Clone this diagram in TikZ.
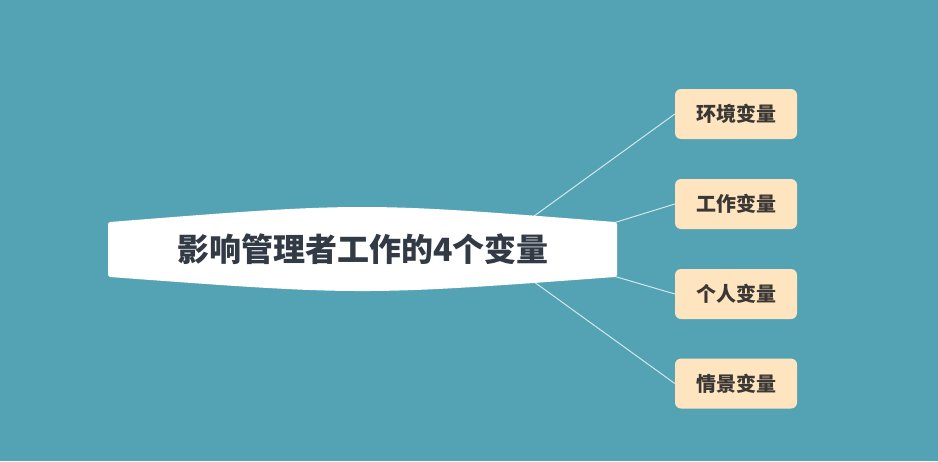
\documentclass[tikz,border=0pt]{standalone}
\usepackage{fontspec}
\newfontfamily\cjk{Noto Sans CJK SC}
\definecolor{bg}{HTML}{53A3B4}
\definecolor{boxfill}{HTML}{FEE5BF}
\definecolor{maintext}{HTML}{313A45}
\definecolor{boxtext}{HTML}{3A3734}
\definecolor{linkc}{HTML}{D2E8EC}
\tikzset{
  leaf/.style={fill=boxfill, rounded corners=6pt, minimum width=122pt, minimum height=50pt, inner sep=0pt, text=boxtext, font=\cjk\bfseries\fontsize{20}{24}\selectfont},
  link/.style={draw=linkc, line width=1pt},
  hubshape/.style={fill=white, draw=white, line width=4pt, line join=round}
}
\begin{document}
\begin{tikzpicture}[x=1pt,y=-1pt]
\fill[bg] (0,0) rectangle (938,461);
\useasboundingbox (0,0) rectangle (938,461);
\node[leaf] (n1) at (736,114) {环境变量};
\node[leaf] (n2) at (736,204) {工作变量};
\node[leaf] (n3) at (736,294) {个人变量};
\node[leaf] (n4) at (736,383.5) {情景变量};
\coordinate (s1) at (530,219);
\coordinate (s2) at (610,224);
\coordinate (s3) at (610,275);
\coordinate (s4) at (530,279);
\draw[link] (s1) -- (n1.west);
\draw[link] (s2) -- (n2.west);
\draw[link] (s3) -- (n3.west);
\draw[link] (s4) -- (n4.west);
\path[hubshape] (110,224) .. controls (362,204) .. (615,224) -- (615,275) .. controls (362,293.7) .. (110,275) -- cycle;
\node[text=maintext, font=\cjk\bfseries\fontsize{32}{36}\selectfont, inner sep=0pt] (hub) at (363,249) {影响管理者工作的4个变量};
\end{tikzpicture}
\end{document}
